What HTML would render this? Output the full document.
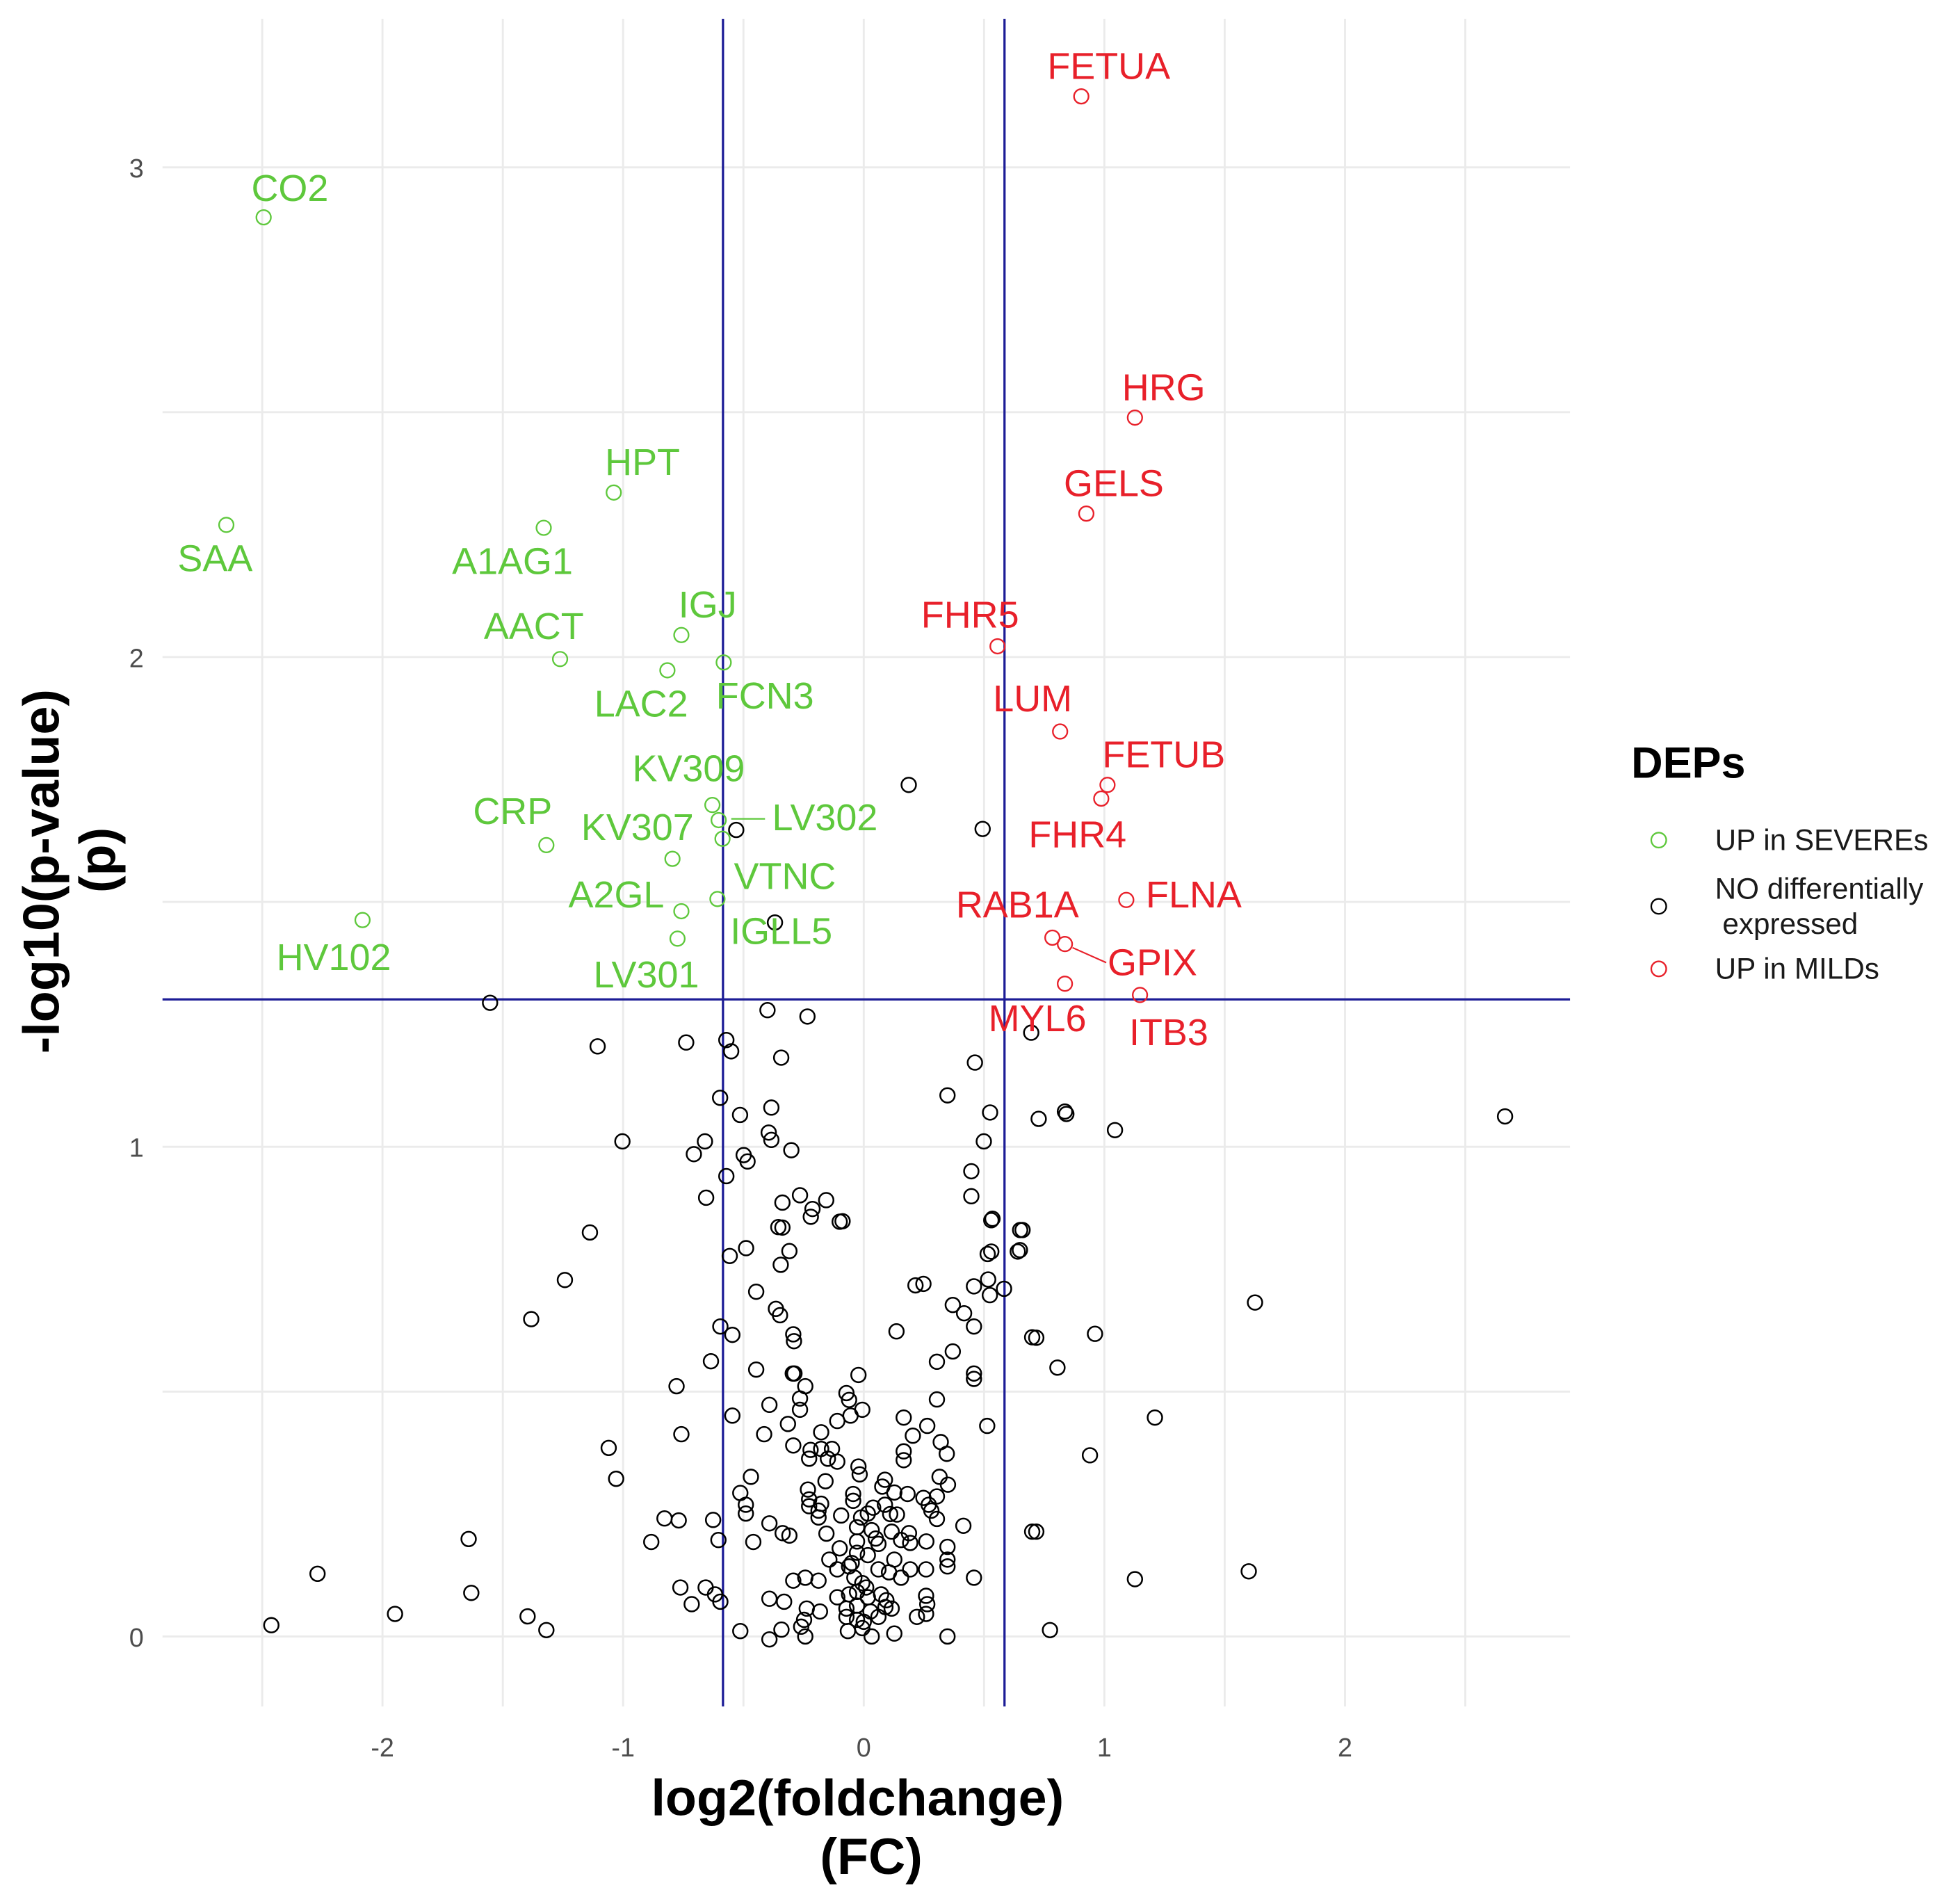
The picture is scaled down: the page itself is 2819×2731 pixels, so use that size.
<!DOCTYPE html>
<html><head><meta charset="utf-8"><style>
html,body{margin:0;padding:0;background:#fff}
svg{display:block}
text{font-family:"Liberation Sans",Arial,sans-serif}
</style></head><body>
<svg id="chart" width="2819" height="2731" viewBox="0 0 1568 1519" preserveAspectRatio="none" xmlns="http://www.w3.org/2000/svg">
<g id="grid"></g>
<g id="thresholds"></g>
<g id="points"></g>
<g id="labels"></g>
<g id="axes"></g>
<g id="legend">
<text x="1305" y="622" font-size="35" font-weight="bold" fill="#000">DEPs</text>
<circle cx="1327" cy="672" r="6" fill="none" stroke="#5ec83c" stroke-width="1.3"/>
<text x="1372" y="680" font-size="23.5" fill="#1a1a1a">UP in SEVEREs</text>
<circle cx="1327" cy="725" r="6" fill="none" stroke="#000" stroke-width="1.3"/>
<text x="1372" y="719" font-size="23.5" fill="#1a1a1a">NO differentially</text>
<text x="1378" y="747" font-size="23.5" fill="#1a1a1a">expressed</text>
<circle cx="1327" cy="775" r="6" fill="none" stroke="#e8202a" stroke-width="1.3"/>
<text x="1372" y="783" font-size="23.5" fill="#1a1a1a">UP in MILDs</text>
</g>
</svg>
<script>
const xTicks=[-2,-1,0,1,2];
const yTicks=[0,1,2,3];
const xThreshold=[-0.585,0.585];
const yThreshold=[1.301];
const nsX=[-1.553,-1.106,-0.738,-0.571,-0.551,-0.40,-0.234,-0.343,0.187,0.494,-0.53,-0.369,0.462,0.696,0.348,0.525,0.727,0.836,0.842,1.044,2.665,0.499,0.447,0.447,0.535,0.66,0.649,0.53,-1.003,-0.66,-0.706,-0.499,-0.483,-0.571,-0.384,-0.395,-0.384,-0.301,-0.597,-0.514,-0.265,-0.338,-0.156,-0.213,-0.088,-0.338,-0.655,-1.138,-1.242,-1.382,-1.06,-1.029,-1.642,-2.27,-1.631,-1.948,-2.462,-1.397,-1.319,0.961,0.717,0.805,1.21,0.94,0.717,1.127,1.60,1.626,0.774,
-0.355,-0.10,-0.22,0.53,0.65,-0.557,-0.489,-0.309,-0.345,0.515,0.64,-0.447,0.215,0.248,0.458,0.517,0.524,0.583,-0.365,-0.348,0.37,0.417,0.458,-0.293,-0.29,-0.596,-0.546,0.136,0.70,-0.635,-0.447,-0.295,-0.288,0.37,0.304,0.458,0.458,-0.022,-0.778,-0.243,-0.072,-0.061,-0.265,-0.265,-0.392,-0.546,-0.006,-0.055,0.304,0.166,0.264,0.513,-0.11,-0.177,-0.315,-0.758,-0.414,0.204,0.32,0.345,-0.293,-0.221,-0.177,-0.132,-0.227,-0.149,-0.11,0.166,0.166,-0.022,-0.017,-0.469,0.088,-0.159,0.315,0.35,-0.513,-0.232,-0.044,0.077,0.127,0.182,0.248,0.304,-0.227,-0.177,-0.044,-0.49,-0.49,-0.227,-0.188,0.039,0.088,0.138,0.281,0.27,-0.828,-0.769,-0.626,-0.392,-0.188,-0.094,-0.011,0.017,0.304,0.414,0.70,-0.337,-0.309,-0.028,0.033,0.116,0.188,-0.883,-0.604,-0.459,-0.155,-0.028,0.061,0.155,0.193,0.26,0.348,-0.028,0.017,-0.143,0.127,0.348,0.348,0.259,-0.11,-0.061,0.061,0.105,0.193,0.155,-0.293,-0.243,-0.188,-0.039,-0.006,0.458,-0.762,-0.715,-0.657,-0.618,-0.596,-0.392,-0.331,-0.11,-0.061,-0.028,0.017,0.072,0.094,0.259,0.264,-0.237,-0.182,-0.248,-0.072,-0.028,0.028,0.116,0.221,0.259,-0.072,-0.028,0.061,-0.513,-0.342,-0.392,-0.243,-0.066,0.033,0.127,0.348,-0.26,-0.006,0.01,-0.05,0.05,0.09,-0.1,0.0,0.11];
const nsY=[1.294,1.205,1.213,1.218,1.195,1.279,1.266,1.182,1.739,1.649,1.647,1.458,1.172,1.233,1.105,1.07,1.057,1.072,1.067,1.034,1.062,1.011,0.95,0.899,0.853,0.83,0.789,0.786,1.011,1.011,0.985,0.983,0.970,0.94,1.08,1.029,1.014,0.993,1.10,1.065,0.901,0.886,0.891,0.873,0.848,0.835,0.896,0.825,0.728,0.648,0.385,0.322,0.199,0.128,0.089,0.046,0.023,0.041,0.013,0.618,0.61,0.549,0.447,0.37,0.214,0.117,0.133,0.682,0.013,
0.836,0.847,0.857,0.85,0.83,0.777,0.793,0.787,0.759,0.781,0.786,0.704,0.717,0.72,0.715,0.729,0.697,0.71,0.669,0.656,0.677,0.66,0.633,0.617,0.603,0.633,0.616,0.623,0.611,0.562,0.545,0.537,0.537,0.582,0.561,0.537,0.526,0.534,0.511,0.511,0.497,0.483,0.486,0.463,0.473,0.451,0.463,0.451,0.484,0.447,0.43,0.43,0.44,0.417,0.434,0.413,0.413,0.41,0.397,0.373,0.39,0.381,0.383,0.383,0.363,0.363,0.357,0.378,0.36,0.347,0.331,0.326,0.32,0.317,0.326,0.31,0.293,0.3,0.291,0.306,0.294,0.291,0.283,0.286,0.28,0.271,0.277,0.269,0.251,0.266,0.257,0.263,0.269,0.249,0.257,0.269,0.241,0.237,0.238,0.231,0.243,0.247,0.243,0.251,0.24,0.226,0.214,0.211,0.206,0.223,0.217,0.214,0.211,0.193,0.197,0.193,0.21,0.194,0.189,0.197,0.191,0.194,0.183,0.171,0.166,0.157,0.157,0.143,0.157,0.137,0.137,0.143,0.137,0.131,0.137,0.12,0.114,0.12,0.114,0.12,0.109,0.12,0.1,0.066,0.1,0.086,0.071,0.077,0.071,0.08,0.086,0.091,0.08,0.086,0.074,0.083,0.066,0.057,0.051,0.034,0.057,0.063,0.051,0.057,0.04,0.046,0.04,0.034,0.04,0.011,0.014,-0.006,0.0,0.011,0.0,0.006,0.0,0.02,0.017,0.1,0.15,0.2,0.06,0.18,0.03,0.25];
const sevNames=["CO2","SAA","HPT","A1AG1","AACT","IGJ","LAC2","FCN3","KV309","LV302","IGLL5","CRP","KV307","VTNC","A2GL","LV301","HV102"];
const sevX=[-2.494,-2.649,-1.039,-1.33,-1.262,-0.758,-0.816,-0.582,-0.629,-0.603,-0.587,-1.319,-0.795,-0.608,-0.758,-0.774,-2.083];
const sevY=[2.898,2.270,2.336,2.264,1.996,2.045,1.973,1.989,1.698,1.667,1.629,1.616,1.588,1.506,1.481,1.425,1.463];
const mildNames=["FETUA","HRG","GELS","FHR5","LUM","FETUB","FHR4","FLNA","RAB1A","GPIX","MYL6","ITB3"];
const mildX=[0.904,1.127,0.925,0.556,0.816,1.013,0.987,1.091,0.784,0.836,0.836,1.148];
const mildY=[3.145,2.489,2.293,2.022,1.848,1.739,1.711,1.504,1.427,1.414,1.333,1.310];
// label layout offsets (pixels, relative to point)
const sevOff=[[21,-24],[-9,26],[23,-25],[-25,26],[-21,-27],[21,-25],[-21,26],[33,26],[-19,-30],[85,-3],[47,73],[-27,-28],[-28,-26],[54,-19],[-52,-14],[-25,28],[-23,29]];
const mildOff=[[22,-25],[23,-25],[22,-25],[-22,-26],[-22,-27],[45,-25],[-19,28],[54,-5],[-28,-27],[70,14],[-22,27],[23,29]];
const leaders={"LV302":[[585,655],[612,655]],"GPIX":[[858,758],[885,770]]};

const NS="http://www.w3.org/2000/svg";
const X0=691,XU=192.5,Y0=1309,YU=391.7,PL=130,PR=1256,PT=15,PB=1365;
function sx(v){return X0+v*XU;}
function sy(v){return Y0-v*YU;}
function mk(tag,attrs,parent){const e=document.createElementNS(NS,tag);for(const k in attrs)e.setAttribute(k,attrs[k]);parent.appendChild(e);return e;}
const grid=document.getElementById('grid');
for(let v=-2.5;v<=2.51;v+=0.5){
  const l=mk('line',{x1:sx(v),x2:sx(v),y1:PT,y2:PB,stroke:'#ebebeb','stroke-width':1.6},grid);
  
  
}
for(let v=0;v<=3.01;v+=0.5){
  const l=mk('line',{x1:PL,x2:PR,y1:sy(v),y2:sy(v),stroke:'#ebebeb','stroke-width':1.6},grid);
  
  
}
const th=document.getElementById('thresholds');
xThreshold.forEach(v=>{
  const l=mk('line',{x1:sx(v),x2:sx(v),y1:PT,y2:PB,stroke:'#1c1c96','stroke-width':1.8},th);
  
  
});
yThreshold.forEach(v=>{
  const l=mk('line',{x1:PL,x2:PR,y1:sy(v),y2:sy(v),stroke:'#1c1c96','stroke-width':1.8},th);
  
  
});
const pts=document.getElementById('points');
for(let i=0;i<nsX.length;i++){
  const c=mk('circle',{cx:sx(nsX[i]),cy:sy(nsY[i]),r:5.8,fill:'none',stroke:'#000','stroke-width':1.4},pts);
  
  
}
const lab=document.getElementById('labels');
function group(names,xs,ys,offs,color,kind){
  for(let i=0;i<names.length;i++){
    const px=sx(xs[i]),py=sy(ys[i]);
    const c=mk('circle',{cx:px,cy:py,r:5.8,fill:'none',stroke:color,'stroke-width':1.3},pts);
    
    
    const t=mk('text',{x:px+offs[i][0],y:py+offs[i][1]+11,'font-size':30,fill:color,'text-anchor':'middle'},lab);
    t.textContent=names[i];
    
    
    if(leaders[names[i]]){const s=leaders[names[i]];
      const l=mk('line',{x1:s[0][0],y1:s[0][1],x2:s[1][0],y2:s[1][1],stroke:color,'stroke-width':1.2},lab);
      
      }
  }
}
group(sevNames,sevX,sevY,sevOff,'#5ec83c','severe');
group(mildNames,mildX,mildY,mildOff,'#e8202a','mild');
const ax=document.getElementById('axes');
xTicks.forEach(v=>{
  const t=mk('text',{x:sx(v),y:1405,'font-size':21,fill:'#4d4d4d','text-anchor':'middle'},ax);
  t.textContent=String(v);
  
  
});
yTicks.forEach(v=>{
  const t=mk('text',{x:115,y:sy(v)+8,'font-size':21,fill:'#4d4d4d','text-anchor':'end'},ax);
  t.textContent=String(v);
  
  
});
const xt1=mk('text',{x:686,y:1452,'font-size':41,'font-weight':'bold',fill:'#000','text-anchor':'middle'},ax);
xt1.textContent='log2(foldchange)';


const xt2=mk('text',{x:697,y:1499,'font-size':41,'font-weight':'bold',fill:'#000','text-anchor':'middle'},ax);
xt2.textContent='(FC)';


const yt1=mk('text',{x:0,y:0,'font-size':41,'font-weight':'bold',fill:'#000','text-anchor':'middle',transform:'translate(47,697) rotate(-90)'},ax);
yt1.textContent='-log10(p-value)';


const yt2=mk('text',{x:0,y:0,'font-size':41,'font-weight':'bold',fill:'#000','text-anchor':'middle',transform:'translate(92,688) rotate(-90)'},ax);
yt2.textContent='(p)';


</script>
</body></html>
